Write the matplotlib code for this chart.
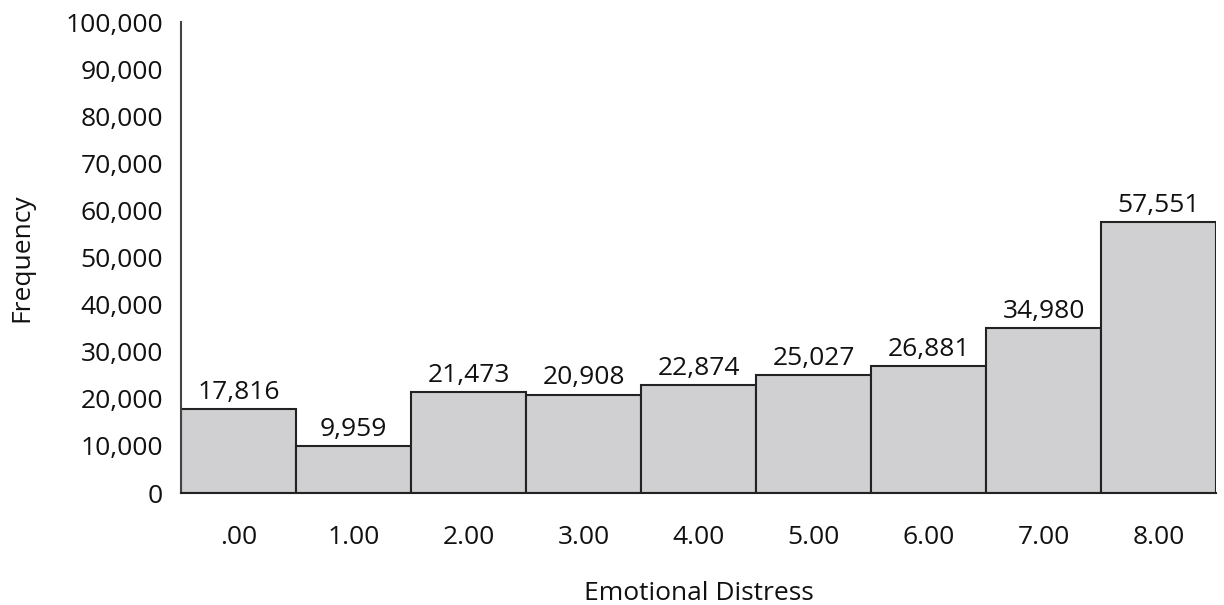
import matplotlib
matplotlib.use("Agg")
import matplotlib.pyplot as plt
from matplotlib.ticker import FuncFormatter

# --- data ---
categories = [".00", "1.00", "2.00", "3.00", "4.00", "5.00", "6.00", "7.00", "8.00"]
frequencies = [17816, 9959, 21473, 20908, 22874, 25027, 26881, 34980, 57551]

plt.rcParams["font.family"] = ["Open Sans", "DejaVu Sans"]
FS = 19

fig = plt.figure(figsize=(12.24, 6.05), dpi=100)
ax = fig.add_axes([0.1479, 0.185, 0.8456, 0.7786])

x = list(range(len(categories)))
ax.bar(x, frequencies, width=1.0, color="#d0cfd1", edgecolor="#222222", linewidth=1.5)

# value labels above each bar
for xi, v in zip(x, frequencies):
    ax.text(xi, v + 900, f"{v:,}", ha="center", va="bottom", fontsize=FS, color="#111111")

ax.set_xlim(-0.5, len(categories) - 0.5)
ax.set_ylim(0, 100000)
ax.set_yticks(range(0, 100001, 10000))
ax.yaxis.set_major_formatter(FuncFormatter(lambda v, p: f"{int(v):,}"))
ax.set_xticks(x)
ax.set_xticklabels(categories)
ax.tick_params(axis="both", length=0, labelsize=FS, colors="#111111")
ax.tick_params(axis="x", pad=23)
ax.tick_params(axis="y", pad=13)

for s in ["top", "right"]:
    ax.spines[s].set_visible(False)
ax.spines["left"].set_color("#444444")
ax.spines["left"].set_linewidth(1.5)
ax.spines["bottom"].set_color("#222222")
ax.spines["bottom"].set_linewidth(1.5)

ax.set_xlabel("Emotional Distress", fontsize=FS, labelpad=22, color="#111111")
ax.set_ylabel("Frequency", fontsize=FS, labelpad=22, color="#111111")

fig.savefig("out.png", dpi=100)
